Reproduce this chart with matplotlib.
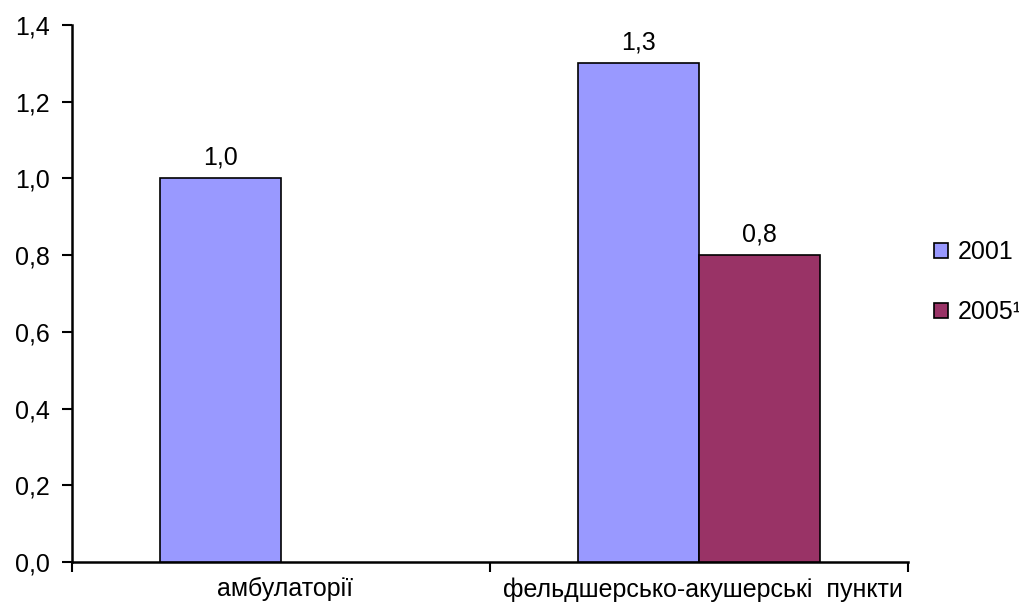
import numpy as np
import matplotlib
matplotlib.use("Agg")
import matplotlib.pyplot as plt
from matplotlib.patches import Patch

categories = ["амбулаторії", "фельдшерсько-акушерські  пункти"]
series_names = ["2001", "2005¹"]
values_2001 = [1.0, 1.3]
values_2005 = [np.nan, 0.8]
colors = ["#9999FF", "#993366"]

plt.rcParams['font.family'] = ['Liberation Sans', 'DejaVu Sans']
FS = 18

fig = plt.figure(figsize=(10.2, 6.12), dpi=100)
ax = fig.add_axes([0.0706, 0.0817, 0.8196, 0.8775])

x = np.arange(len(categories))
w = 0.29
for i, (vals, col) in enumerate(zip([values_2001, values_2005], colors)):
    off = (i - 0.5) * w
    for xi, v in zip(x, vals):
        if np.isnan(v):
            continue
        ax.bar(xi + off, v, width=w, color=col, edgecolor="black", linewidth=1.2, zorder=3)
        ax.text(xi + off, v + 0.022, f"{v:.1f}".replace(".", ","), ha="center", va="bottom",
                fontsize=FS)

ax.set_xlim(-0.5, 1.5)
ax.set_ylim(0, 1.4)
yt = np.arange(0, 1.41, 0.2)
ax.set_yticks(yt)
ax.set_yticklabels([f"{t:.1f}".replace(".", ",") for t in yt], fontsize=FS)
ax.set_xticks([-0.5, 0.5, 1.5])
ax.set_xticklabels([])
ax.set_xticks(x + 0.01, minor=True)
ax.set_xticklabels(categories, minor=True, fontsize=FS)
ax.tick_params(axis="x", which="minor", length=0, pad=11)
ax.tick_params(axis="both", which="major", length=7, width=1.5, direction="out")
ax.tick_params(axis="y", pad=9)
for s in ["top", "right"]:
    ax.spines[s].set_visible(False)
for s in ["left", "bottom"]:
    ax.spines[s].set_linewidth(1.8)

handles = [Patch(facecolor=c, edgecolor="black", linewidth=1.2) for c in colors]
fig.legend(handles, series_names, loc="center left", bbox_to_anchor=(0.906, 0.539),
           frameon=False, fontsize=FS, handlelength=0.55, handleheight=0.55,
           handletextpad=0.4, labelspacing=1.45, borderaxespad=0)

fig.savefig("out.png", dpi=100)
